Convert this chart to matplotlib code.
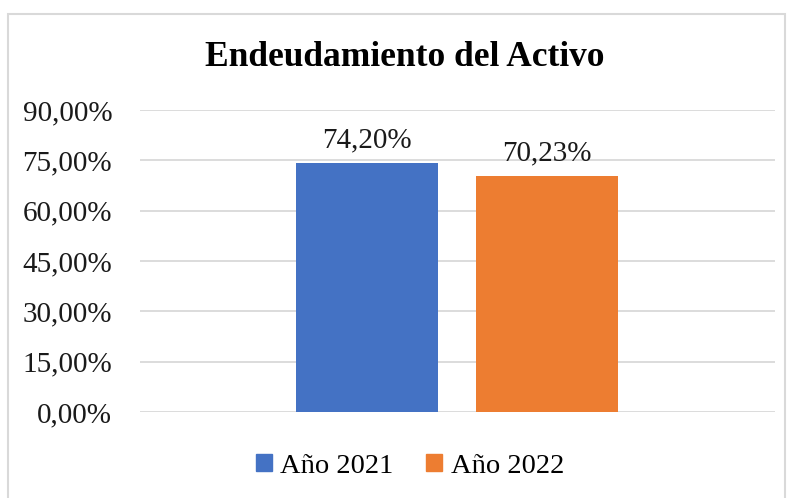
import matplotlib
matplotlib.use("Agg")
import matplotlib.pyplot as plt
from matplotlib.patches import Rectangle
from matplotlib.ticker import FuncFormatter

series = ["Año 2021", "Año 2022"]
values = [0.7420, 0.7023]
labels = ["74,20%", "70,23%"]
colors = ["#4472C4", "#ED7D31"]
yticks = [0, 0.15, 0.30, 0.45, 0.60, 0.75, 0.90]

plt.rcParams['font.family'] = ['Liberation Serif', 'DejaVu Serif']

fig = plt.figure(figsize=(7.9, 4.98), dpi=100)
fig.patches.append(Rectangle((8/790, -0.01), 777/790, 1 - 14/498 + 0.01, transform=fig.transFigure,
                             fill=False, edgecolor="#d9d9d9", linewidth=1.5, zorder=0))
ax = fig.add_axes([140/790, 1 - 412/498, 635/790, 302/498])

offsets = [-0.1425, 0.141]
width = 0.2236
for off, v, lab, c, s in zip(offsets, values, labels, colors, series):
    ax.bar(off, v, width=width, color=c, label=s, zorder=3)
    ax.text(off, v + 0.03, lab, ha="center", va="bottom", fontsize=21, color="#1a1a1a")

ax.set_xlim(-0.5, 0.5)
ax.set_ylim(0, 0.9)
ax.set_yticks(yticks)
ax.yaxis.set_major_formatter(FuncFormatter(lambda y, p: f"{y*100:.2f}%".replace(".", ",")))
ax.tick_params(axis="y", length=0, labelsize=21, pad=20, labelcolor="#1a1a1a")
ax.set_xticks([])
ax.grid(axis="y", color="#d9d9d9", linewidth=1.3, zorder=0)
for sp in ax.spines.values():
    sp.set_visible(False)

fig.text(405/790, 1 - 57/498, "Endeudamiento del Activo", ha="center", va="center",
         fontsize=25.5, fontweight="bold", color="black")

handles = [Rectangle((0, 0), 1, 1, color=c) for c in colors]
fig.legend(handles, series, loc="center", bbox_to_anchor=(410/790, 1 - 466/498), ncol=2,
           frameon=False, fontsize=20.5, handlelength=0.55, handleheight=0.55,
           handletextpad=0.3, columnspacing=1.15)

fig.savefig("out.png", dpi=100)
